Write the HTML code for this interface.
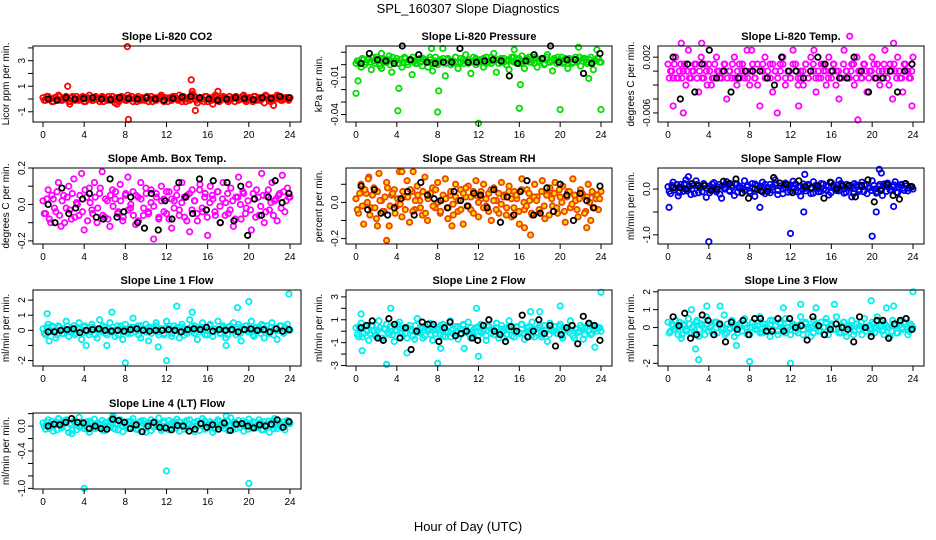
<!DOCTYPE html>
<html><head><meta charset="utf-8"><style>
body{margin:0;background:#fff;}
svg{display:block;font-family:"Liberation Sans",Arial,sans-serif;}
</style></head><body>
<svg id="chart" width="936" height="540" viewBox="0 0 936 540" xmlns="http://www.w3.org/2000/svg">
<rect width="936" height="540" fill="#fff"/>
<text x="468" y="13" text-anchor="middle" font-size="13">SPL_160307  Slope Diagnostics</text>
<text x="468" y="531" text-anchor="middle" font-size="13">Hour of Day (UTC)</text>
</svg>
<script>
const xTicks=[0,4,8,12,16,20,24];
const xTickLabels=["0","4","8","12","16","20","24"];

const co2Main=[0.1,-0.1,0.2,0,-0.2,0.1,0.3,-0.1,0,0.2,-0.2,0.1,0,0.2,-0.1,0.1,-0.2,0,0.3,-0.1,0.1,0,-0.2,0.2,0.1,-0.1,0,0.2,-0.3,0.1,0,0.1,-0.1,0.3,0,-0.2,0.1,0.2,-0.1,0,0.1,-0.2,0.2,0,-0.1,0.1,0.3,-0.2,0,0.1,-0.1,0.2,0,0.3,-0.2,0.1,0,-0.1,0.4,0.2,-0.3,0.1,0,0.2,-0.2,0.1,-0.4,0.3,0,-0.1,0.2,0.1,-0.2,0,0.1,0.2,-0.1,0,0.3,-0.2,0.1,0,0.2,-0.1,0.1,0,-0.3,0.2,0.1,-0.1,0,0.3,0.2,-0.1,0.1,0,0.1];
const co2Main2=[-0.1,0.2,0,-0.2,0.1,0,0.2,-0.1,0.1,0,-0.2,0.2,-0.1,0,0.1,0.2,-0.2,0.1,0,-0.1,0.2,0,0.1,-0.2,0,0.2,-0.1,0,0.1,-0.2,0.2,0,-0.1,0.1,0.2,0,-0.2,0,0.1,-0.1,0.2,0,-0.2,0.1,0,0.2,-0.1,0.1,-0.2,0,0.2,0.1,-0.1,0,0.2,-0.2,0.1,0,0.3,-0.1,0,0.1,-0.2,0.2,0,-0.1,0.1,0.2,-0.2,0,0.1,-0.1,0.2,0,-0.2,0.1,0,0.2,-0.1,0,0.1,-0.2,0.2,0,-0.1,0.1,0.3,0,-0.2,0.1,0,0.2,-0.1,0,0.1,-0.1];
const co2OutX=[2.4,2.6,8.2,8.3,14.4,14.5,14.8,17,22.4,7.2];
const co2OutY=[1.0,-0.4,4.1,-1.6,1.5,0.6,-0.9,0.6,-0.5,-0.4];
const co2Black=[0,-0.1,0.1,0,0.05,0.1,0,-0.05,0.1,0.05,0,0.1,0,-0.1,0.05,0.15,0.2,0.1,0,-0.1,0,0.1,0.05,-0.05,0.1,0.05,0.2,0.1];

const presMain=[0.001,0.003,-0.002,0.004,0.002,0.005,-0.004,0.003,0.006,0.001,-0.003,0.004,0.002,0.007,-0.006,0.003,0.005,0.001,-0.002,0.006,0.002,0.004,-0.008,0.003,0.001,0.005,-0.001,0.004,0.002,0.006,-0.005,0.003,0.000,0.004,0.002,-0.009,0.005,0.003,0.001,0.006,-0.003,0.002,0.004,0.008,0.001,-0.007,0.003,0.005,0.002,0.004,-0.002,0.006,0.003,0.001,0.009,-0.006,0.004,0.002,0.005,0.003,-0.004,0.006,0.002,0.004,0.001,0.007,-0.003,0.005,0.002,0.004,0.006,-0.002,0.003,0.005,0.001,0.008,0.002,-0.005,0.004,0.006,0.003,0.001,0.005,-0.003,0.004,0.002,0.006,0.003,-0.001,0.005,0.004,0.002,0.006,-0.004,0.003,0.005,0.002];
const presMain2=[0.003,0.001,0.005,0.000,0.004,0.002,0.006,0.001,0.003,-0.001,0.005,0.002,0.004,0.000,0.006,0.003,0.001,0.004,0.002,0.005,0.000,0.003,0.006,0.001,0.004,0.002,0.005,0.003,-0.002,0.004,0.001,0.006,0.002,0.003,0.005,0.001,0.004,0.000,0.003,0.006,0.002,0.005,0.001,0.003,0.004,0.002,0.006,0.000,0.004,0.003,0.005,0.001,0.002,0.006,0.003,0.004,0.001,0.005,0.002,0.000,0.004,0.003,0.006,0.002,0.005,0.001,0.003,0.004,0.006,0.002,0.001,0.005,0.003,0.004,0.000,0.006,0.002,0.003,0.005,0.001,0.004,0.006,0.002,0.003,0.005,0.001,0.004,0.002,0.006,0.003,0.005,0.001,0.004,0.002,0.003,0.005,0.002];
const presOutX=[0,0.2,4.1,4.2,8,8.1,12,16,20,24,7.4,8.5,15.5,21.8,23.6,22.8,16.1,2.5];
const presOutY=[-0.023,-0.013,-0.037,-0.019,-0.038,-0.021,-0.047,-0.035,-0.036,-0.036,0.013,0.013,0.012,0.014,0.012,-0.011,-0.016,0.009];
const presBlack=[0.001,0.009,0.004,0.003,0.001,0.015,0.004,0.008,0.002,0.001,0.002,0.002,0.013,0.002,0.002,0.003,0.004,0.003,-0.009,0.001,0.003,0.008,0.005,0.015,0.002,0.004,0.004,-0.007,0.001,0.009];

const tempMain=[0.001,0,-0.001,0.002,-0.001,0.001,0,-0.002,0.003,-0.001,0,0.001,-0.003,0.002,-0.001,0,0.001,-0.002,-0.001,0.002,0,-0.001,0.001,-0.004,0,-0.001,0.002,-0.002,0.001,0,-0.001,0.003,-0.002,0,-0.001,0.001,-0.005,0,0.002,-0.001,0.001,-0.003,0,-0.001,0.001,0.002,-0.002,0,-0.001,0.003,0.001,-0.001,0,-0.002,0.001,-0.001,0.002,0,-0.003,-0.001,0.001,0,-0.002,0.002,-0.001,0.001,0,-0.004,-0.001,0.003,0,-0.001,0.001,-0.002,0.002,0,-0.001,0.001,-0.003,0,0.002,-0.001,0.001,-0.002,0,0.003,-0.001,0.001,-0.004,0,0.002,-0.001,-0.003,0.001,0,-0.001,0.002];
const tempMain2=[-0.001,0,0.001,-0.001,0,-0.001,0.001,0,-0.001,0,0.001,-0.001,0,-0.001,0.001,-0.002,0,-0.001,0.001,0,-0.001,0,0.001,-0.001,0,0.001,-0.001,0,-0.001,0.001,0,-0.001,0,0.001,-0.001,-0.002,0,0.001,-0.001,0,-0.001,0.001,0,-0.001,0,0.001,-0.001,0,-0.001,0.001,0,-0.002,-0.001,0,0.001,-0.001,0,0.001,-0.001,0,-0.001,0.001,0,-0.001,0,0.001,-0.002,0,-0.001,0.001,0,-0.001,0,0.001,-0.001,0,-0.001,0.001,0,-0.001,0,0.001,-0.001,0,-0.001,0.001,0,-0.002,0,0.001,-0.001,0,-0.001,0.001,0,-0.001,0];
const tempOutX=[0.5,1.3,3.3,10.7,12.8,14.3,17.8,18.6,22.1,23.9,8.2,1.5];
const tempOutY=[-0.005,0.004,0.004,-0.006,-0.005,0.003,0.005,-0.007,0.004,-0.005,0.003,-0.006];
const tempBlack=[0.002,-0.004,0.001,-0.003,0.001,0.003,-0.001,0,-0.003,-0.001,0,0,0,-0.001,-0.002,0.002,0,0,-0.001,0,0.002,0.001,0,-0.001,-0.001,0.002,0,-0.003,-0.001,-0.001,0,-0.003,0,0.001];

const ambMain=[0.02,-0.05,0.08,-0.1,0.03,-0.04,0.12,-0.12,0.05,-0.02,0.1,-0.08,0.14,0.01,-0.06,0.17,-0.14,0.04,0.09,-0.03,0.12,-0.1,0.06,0.18,-0.07,0.02,-0.12,0.08,0.03,-0.05,0.11,-0.09,0.05,0.15,-0.02,0.07,-0.11,0.04,0.12,-0.06,0.09,-0.04,0.01,-0.19,0.06,-0.08,0.1,0.03,-0.05,0.07,-0.13,0.02,0.09,-0.03,0.12,-0.07,0.05,-0.15,0.08,0.02,-0.09,0.11,-0.04,0.06,-0.17,0.1,0.03,-0.06,0.07,-0.1,0.12,0.01,-0.05,0.09,-0.12,0.04,0.15,-0.08,0.06,-0.02,0.11,-0.14,0.03,0.08,-0.06,0.17,-0.1,0.05,-0.03,0.12,0.02,-0.09,0.06,0.16,-0.04,0.09,0.04];
const ambMain2=[-0.05,0.03,-0.08,0.05,-0.02,0.07,-0.06,0.02,-0.1,0.04,-0.03,0.06,-0.07,0.0,0.05,-0.04,0.08,-0.09,0.01,-0.05,0.04,-0.02,0.09,-0.06,0.03,-0.08,0.05,-0.01,0.07,-0.04,0.02,-0.07,0.06,-0.03,0.0,-0.06,0.05,-0.09,0.03,-0.02,0.06,-0.05,0.08,-0.01,0.04,-0.07,0.02,-0.04,0.07,-0.08,0.03,-0.02,0.05,-0.06,0.01,0.04,-0.09,0.06,-0.03,0.02,-0.05,0.08,-0.02,0.04,-0.07,0.01,0.05,-0.04,0.07,-0.01,0.03,-0.06,0.06,-0.03,0.02,-0.08,0.04,0.0,0.07,-0.05,0.02,-0.03,0.06,-0.07,0.04,-0.01,0.05,-0.04,0.08,0.01,-0.06,0.03,0.05,-0.02,0.07,0.02,0.04];
const ambBlack=[0,-0.1,0.09,-0.05,-0.02,0.03,0.06,-0.07,-0.08,0.14,-0.07,-0.04,0.04,-0.1,-0.13,0.06,-0.14,0.02,-0.08,0.12,0.04,-0.05,0.14,-0.03,0.13,-0.1,0.12,-0.09,0.1,-0.17,0.03,-0.06,0.04,0.13,0.01,0.06];

const rhMain=[0.02,-0.06,0.1,-0.12,0.05,0.14,-0.03,0.08,-0.09,0.16,0.01,-0.05,0.11,-0.13,0.04,0.07,-0.02,0.17,-0.08,0.03,0.12,-0.11,0.06,-0.04,0.09,0.01,-0.07,0.14,-0.1,0.05,0.08,-0.03,0.11,-0.06,0.02,0.13,-0.09,0.04,-0.01,0.1,-0.05,0.07,-0.12,0.03,0.09,-0.04,0.06,0.12,-0.08,0.02,0.1,-0.02,0.05,-0.1,0.08,0.01,-0.06,0.11,0.04,-0.03,0.09,-0.08,0.06,0.02,-0.12,0.13,-0.04,0.07,0.01,-0.07,0.1,0.03,-0.05,0.12,-0.09,0.05,0.08,-0.02,0.11,-0.06,0.03,0.09,-0.11,0.06,-0.03,0.13,0.01,-0.08,0.07,0.04,-0.05,0.1,-0.1,0.05,0.02,-0.04,0.06];
const rhMain2=[-0.04,0.05,-0.02,0.07,0.0,-0.07,0.04,-0.03,0.06,0.01,-0.05,0.03,0.08,-0.02,0.05,-0.06,0.02,-0.01,0.06,-0.04,0.03,0.07,-0.05,0.01,0.04,-0.03,0.06,-0.06,0.02,0.05,-0.02,0.07,0.0,-0.05,0.04,0.02,-0.03,0.06,-0.07,0.03,0.01,-0.04,0.05,0.08,-0.02,0.03,-0.06,0.04,0.0,0.06,-0.03,0.02,-0.05,0.07,0.01,-0.04,0.05,-0.01,0.03,-0.07,0.06,0.02,-0.03,0.04,-0.05,0.07,0.0,-0.02,0.05,-0.06,0.03,0.01,-0.04,0.06,-0.02,0.04,-0.07,0.02,0.05,-0.03,0.07,0.0,-0.05,0.03,0.06,-0.01,0.04,-0.04,0.02,0.05,-0.06,0.03,0.0,0.06,-0.03,0.04,0.02];
const rhOutX=[3.0,4.5,5.6,2.1,17.1,22.6,9.4,16.5,1.2];
const rhOutY=[-0.21,0.17,0.17,-0.13,-0.18,-0.14,-0.13,-0.14,0.13];
const rhBlack=[0.09,-0.04,0.07,-0.06,-0.07,-0.03,0.02,0.06,-0.07,0.11,0.04,0.02,0.01,-0.03,0.06,0.01,-0.02,0.05,0.04,-0.03,0.07,-0.11,0.03,-0.07,0.06,0.12,-0.07,-0.06,0.08,-0.05,0.1,0.04,-0.1,0.05,0.01,-0.03,0.09];

const sampMain=[0.05,-0.1,0.15,0.02,-0.15,0.1,-0.05,0.2,0.0,-0.12,0.08,0.18,-0.08,0.04,0.12,-0.18,0.06,0.0,0.14,-0.06,0.1,-0.2,0.03,0.16,-0.03,0.08,-0.14,0.11,0.02,-0.09,0.18,0.05,-0.05,0.12,-0.16,0.07,0.02,0.15,-0.1,0.04,0.1,-0.02,0.2,-0.12,0.06,0.0,0.13,-0.07,0.09,0.17,-0.04,0.05,-0.15,0.11,0.02,0.08,-0.1,0.16,0.03,-0.06,0.12,0.0,0.07,-0.13,0.14,0.04,-0.03,0.19,0.06,-0.09,0.1,0.02,-0.17,0.12,0.05,-0.05,0.15,0.08,-0.1,0.03,0.18,0.0,-0.06,0.1,-0.14,0.07,0.13,-0.02,0.05,0.16,-0.08,0.09,0.02,0.12,-0.04,0.06,0.0];
const sampMain2=[-0.05,0.08,-0.02,0.1,-0.08,0.04,0.12,-0.04,0.06,0.0,-0.1,0.1,0.03,-0.06,0.08,0.02,-0.08,0.11,-0.02,0.05,-0.11,0.07,0.0,0.1,-0.05,0.04,0.12,-0.07,0.06,0.01,-0.04,0.09,-0.09,0.03,0.11,-0.02,0.06,-0.06,0.1,0.0,-0.08,0.05,0.12,-0.03,0.07,-0.1,0.04,0.09,-0.05,0.02,0.11,-0.07,0.06,0.0,-0.04,0.1,0.03,-0.09,0.08,0.01,-0.05,0.11,-0.02,0.06,-0.08,0.09,0.02,-0.04,0.12,0.0,-0.07,0.07,0.04,-0.1,0.09,-0.01,0.05,-0.06,0.1,0.02,-0.03,0.08,-0.09,0.06,0.01,0.11,-0.05,0.04,-0.02,0.09,-0.07,0.05,0.1,-0.03,0.07,0.02,0.05];
const sampOutX=[0.1,4.0,12.0,20.0,13.3,20.4,20.7,20.9,9.0,22.1,13.4,2.0];
const sampOutY=[-0.4,-1.15,-0.97,-1.03,-0.5,-0.5,0.43,0.35,-0.4,-0.38,0.32,0.27];
const sampBlack=[0.03,0.03,0.0,0.12,0.07,0.08,-0.03,0.0,0.17,0.12,0.22,-0.08,-0.2,0.0,-0.04,-0.05,0.25,0.13,0.1,-0.08,0.18,0.06,0.03,0.07,-0.2,0.15,0.0,0.07,0.08,-0.17,0.08,0.2,-0.28,-0.03,0.1,-0.14,-0.22,0.12,0.05];

const l1Main=[0.1,-0.3,0.4,-0.1,0.2,-0.5,0.3,0.0,-0.2,0.6,-0.4,0.1,0.3,-0.2,0.5,-0.6,0.2,0.0,-0.3,0.4,0.1,-0.5,0.7,-0.1,0.2,-0.3,0.5,0.0,-0.4,0.3,0.1,-0.6,0.4,-0.2,0.2,0.8,-0.1,0.3,-0.5,0.1,0.4,-0.7,0.2,0.0,0.5,-0.3,0.1,-0.2,0.6,0.3,-0.4,0.0,0.2,-0.5,0.4,0.1,-0.2,0.7,-0.1,0.3,-0.6,0.2,0.5,-0.3,0.0,0.4,-0.4,0.1,0.6,-0.2,0.3,-0.5,0.2,0.0,0.5,-0.3,0.4,-0.7,0.1,0.3,-0.1,0.6,-0.4,0.2,0.0,0.4,-0.5,0.3,-0.2,0.5,0.1,-0.6,0.3,-0.1,0.2,0.4,0.0];
const l1Main2=[-0.2,0.2,-0.1,0.3,0.0,-0.3,0.2,-0.2,0.1,0.3,-0.1,0.0,-0.3,0.2,0.1,-0.2,0.3,0.0,-0.1,0.2,-0.3,0.1,0.0,0.3,-0.2,0.1,-0.1,0.2,0.0,-0.3,0.3,-0.1,0.1,0.0,-0.2,0.2,0.1,-0.3,0.3,0.0,-0.1,0.2,-0.2,0.1,0.3,-0.1,0.0,-0.3,0.2,0.1,-0.2,0.3,0.0,-0.1,0.2,-0.3,0.1,0.0,0.3,-0.2,0.1,-0.1,0.2,0.0,-0.3,0.3,-0.1,0.1,0.0,-0.2,0.2,0.1,-0.3,0.3,0.0,-0.1,0.2,-0.2,0.1,0.3,-0.1,0.0,-0.3,0.2,0.1,-0.2,0.3,0.0,-0.1,0.2,-0.3,0.1,0.0,0.3,-0.2,0.1,0.0];
const l1OutX=[0.4,4.2,6.2,6.7,8.0,11.2,12.0,13.0,14.5,17.8,18.9,20.0,23.9,0.6];
const l1OutY=[1.1,-1.0,-1.0,1.2,-2.15,-1.1,-2.0,1.6,1.2,-1.0,1.5,1.9,2.4,-0.7];
const l1Black=[-0.1,-0.1,0.0,0.05,0.1,-0.15,0.0,0.05,0.1,0.0,-0.05,0.0,-0.05,0.05,0.1,0.0,-0.05,0.0,0.0,0.05,0.0,-0.1,0.05,0.1,0.05,0.2,-0.05,0.05,0.0,0.05,-0.1,0.05,0.1,0.0,0.05,-0.1,0.1,-0.05,0.05];

const l2Main=[0.3,-0.5,0.7,-0.2,0.1,-0.8,0.5,0.0,-0.4,0.9,-0.6,0.2,0.6,-0.3,0.4,-0.9,0.1,0.8,-0.2,0.3,-0.6,0.5,0.0,-0.7,1.1,-0.1,0.4,-0.4,0.2,0.7,-0.8,0.1,0.3,-0.3,0.6,-0.5,0.0,0.9,-0.2,0.4,-0.7,0.2,0.5,-0.1,0.8,-0.6,0.1,0.3,-0.4,0.6,0.0,-0.8,0.4,0.2,-0.3,0.7,-0.1,0.5,-0.6,0.2,0.9,-0.4,0.1,0.4,-0.2,0.6,-0.7,0.3,0.0,0.8,-0.5,0.2,0.5,-0.3,0.1,-0.9,0.7,0.0,0.4,-0.2,0.6,-0.6,0.3,0.1,0.9,-0.4,0.2,-0.1,0.5,-0.7,0.3,0.6,-0.3,0.1,0.4,0.2,0.0];
const l2Main2=[-0.3,0.2,-0.5,0.4,0.0,-0.2,0.5,-0.4,0.1,0.3,-0.6,0.2,-0.1,0.4,-0.3,0.0,0.6,-0.5,0.2,-0.2,0.3,0.1,-0.4,0.5,-0.1,0.2,-0.6,0.3,0.0,-0.3,0.4,-0.2,0.1,0.5,-0.4,0.0,0.3,-0.5,0.2,-0.1,0.4,-0.3,0.6,0.1,-0.2,0.3,-0.5,0.0,0.4,-0.1,0.2,-0.4,0.5,-0.2,0.1,0.3,-0.6,0.2,0.0,-0.3,0.4,0.1,-0.5,0.3,-0.1,0.6,-0.2,0.0,0.4,-0.4,0.2,-0.1,0.3,-0.5,0.5,0.1,-0.3,0.2,0.0,-0.2,0.4,-0.4,0.1,0.3,-0.1,0.5,-0.6,0.2,0.0,0.3,-0.3,0.4,0.1,-0.2,0.2,0.0,0.3];
const l2OutX=[0.5,0.6,3.0,3.4,5.0,8.0,8.3,10.6,11.8,12.0,17.1,18.0,20.0,23.4,24.0,0.3];
const l2OutY=[1.5,-1.7,-2.9,2.0,-1.9,-2.8,-1.5,-1.5,2.0,-2.2,1.7,1.7,2.2,-1.4,3.4,0.4];
const l2Black=[0.3,0.5,0.9,-0.6,-0.8,1.1,0.6,-0.6,0.3,-1.6,0.0,0.8,0.6,0.6,-0.9,0.3,0.8,-0.4,-0.2,0.0,-0.6,-0.8,0.5,1.0,0.0,-0.3,-0.9,0.4,0.0,1.4,-0.5,0.0,1.0,-0.2,0.5,-1.3,-0.3,0.3,0.5,-1.1,1.3,0.7,0.5,-0.8];

const l3Main=[0.3,-0.2,0.1,0.4,-0.4,0.0,0.2,-0.1,0.5,-0.3,0.1,0.3,-0.5,0.2,0.0,0.6,-0.2,0.1,-0.4,0.3,0.2,-0.1,0.7,-0.3,0.0,0.4,-0.5,0.1,0.2,-0.2,0.5,0.0,-0.4,0.3,0.1,-0.1,0.6,-0.3,0.2,0.0,-0.5,0.4,0.1,-0.2,0.3,-0.1,0.5,0.0,-0.4,0.2,0.1,-0.3,0.6,-0.1,0.2,0.0,-0.5,0.4,0.1,-0.2,0.3,-0.4,0.5,0.0,0.2,-0.1,0.6,-0.3,0.1,0.3,-0.5,0.0,0.4,-0.2,0.2,0.1,-0.4,0.5,0.0,-0.1,0.3,-0.3,0.6,0.1,-0.2,0.2,0.0,-0.5,0.4,0.1,-0.3,0.3,-0.1,0.5,-0.4,0.2,0.0];
const l3Main2=[-0.3,0.2,-0.1,0.0,0.3,-0.4,0.1,-0.2,0.2,0.0,-0.3,0.4,-0.1,0.1,-0.4,0.2,0.0,-0.2,0.3,-0.3,0.1,0.0,-0.4,0.2,-0.1,0.3,0.0,-0.3,0.1,-0.2,0.2,-0.4,0.0,0.3,-0.1,0.1,-0.3,0.2,0.0,-0.2,0.4,-0.1,0.1,-0.4,0.2,0.0,-0.3,0.3,-0.1,0.1,-0.2,0.0,0.2,-0.4,0.3,-0.1,0.0,-0.3,0.2,0.1,-0.2,0.0,0.3,-0.4,0.1,-0.1,0.2,0.0,-0.3,0.3,-0.2,0.1,0.0,-0.4,0.2,-0.1,0.3,0.0,-0.2,0.1,-0.3,0.2,0.0,-0.1,0.3,-0.4,0.1,0.0,-0.2,0.2,-0.3,0.1,0.0,0.3,-0.1,-0.2,0.1];
const l3OutX=[1.3,2.7,3.0,3.8,5.1,6.7,8.0,11.3,12.0,13.0,14.5,16.3,19.9,21.4,22.1,24.0,2.3];
const l3OutY=[-0.6,-1.2,-1.8,1.2,1.2,-1.0,-1.9,1.1,-2.0,1.3,1.1,1.3,1.5,1.1,1.2,2.0,1.0];
const l3Black=[0.6,0.1,0.8,-0.6,-0.4,0.7,0.4,-0.4,0.2,-0.8,0.3,-0.1,0.4,-0.4,0.5,0.5,-0.2,-0.2,0.5,-0.2,0.5,0.0,0.1,-0.7,0.6,0.1,-0.4,-0.1,0.2,0.0,-0.1,-0.8,0.6,0.0,-0.5,0.4,0.4,-0.6,0.2,0.4,0.5,-0.1];

const l4Main=[0.05,-0.05,0.1,0.0,-0.08,0.06,0.12,-0.03,0.04,0.1,-0.1,0.02,0.08,-0.06,0.14,0.0,-0.04,0.07,-0.1,0.05,0.11,-0.02,0.03,0.09,-0.07,0.06,0.0,0.13,-0.05,0.04,0.1,-0.09,0.02,0.07,-0.03,0.12,0.01,-0.06,0.08,0.04,-0.1,0.06,0.1,-0.02,0.03,0.13,-0.07,0.05,0.0,0.09,-0.04,0.07,0.11,-0.08,0.02,0.06,-0.03,0.1,0.0,-0.09,0.08,0.04,0.12,-0.05,0.03,0.07,-0.1,0.05,0.1,-0.02,0.06,0.01,-0.07,0.13,0.04,-0.04,0.09,0.02,-0.08,0.06,0.11,-0.03,0.05,0.0,0.1,-0.06,0.07,0.03,-0.1,0.08,0.12,-0.04,0.05,0.02,-0.06,0.09,0.04];
const l4Main2=[0.0,0.06,-0.04,0.08,0.02,-0.06,0.05,0.0,0.09,-0.03,0.04,-0.07,0.07,0.01,-0.02,0.06,0.03,-0.05,0.08,0.0,-0.04,0.05,0.02,-0.07,0.06,0.01,0.09,-0.03,0.04,-0.06,0.07,0.0,0.03,-0.04,0.08,0.02,-0.05,0.05,0.0,0.09,-0.02,0.04,-0.07,0.06,0.01,0.03,-0.04,0.08,0.0,-0.06,0.05,0.02,-0.03,0.07,0.01,-0.05,0.09,0.03,-0.02,0.06,0.0,-0.07,0.04,0.08,-0.03,0.02,0.05,-0.05,0.07,0.0,0.03,-0.04,0.09,0.01,-0.06,0.06,0.02,-0.02,0.08,0.0,-0.05,0.04,0.07,-0.03,0.01,0.06,-0.06,0.03,0.08,0.0,-0.04,0.05,0.02,-0.02,0.07,0.03,0.05];
const l4OutX=[4.0,12.0,20.0,2.8,17.8,6.8];
const l4OutY=[-1.0,-0.72,-0.92,-0.12,0.16,0.16];
const l4Black=[0.0,0.03,0.02,0.06,0.12,0.06,0.05,-0.04,0.0,-0.04,-0.05,0.11,0.09,0.06,-0.04,0.02,-0.09,0.0,0.06,-0.02,-0.03,-0.06,0.01,0.0,-0.08,-0.05,0.04,-0.02,0.02,-0.05,0.05,-0.07,0.03,0.04,0.0,-0.03,0.02,0.0,0.03,0.1,-0.02,0.07];

const co2Ticks=[-1,0,1,2,3,4];const co2Labels=["-1","","1","","3",""];
const presTicks=[0.01,0,-0.01,-0.02,-0.03,-0.04];const presLabels=["","","-0.01","","","-0.04"];
const tempTicks=[0.002,0,-0.002,-0.004,-0.006];const tempLabels=["0.002","","","","-0.006"];
const ambTicks=[0.2,0.1,0,-0.1,-0.2];const ambLabels=["0.2","","0.0","","-0.2"];
const rhTicks=[0.1,0,-0.1,-0.2];const rhLabels=["","0.0","","-0.2"];
const sampTicks=[0,-0.5,-1];const sampLabels=["0.0","","-1.0"];
const l1Ticks=[2,1,0,-1,-2];const l1Labels=["2","1","0","","-2"];
const l2Ticks=[3,2,1,0,-1,-2,-3];const l2Labels=["3","","1","","-1","","-3"];
const l3Ticks=[2,1,0,-1,-2];const l3Labels=["2","1","0","","-2"];
const l4Ticks=[0.2,0,-0.2,-0.4,-0.6,-0.8,-1.0];const l4Labels=["","0.0","","-0.4","","","-1.0"];

const NS="http://www.w3.org/2000/svg";
const svg=document.getElementById('chart');
const colL=[33,346,658], colR=[301,612,924];
const rowT=[46,168,290,413], rowH=76;

function mk(tag,attrs,parent){const e=document.createElementNS(NS,tag);for(const k in attrs)e.setAttribute(k,attrs[k]);(parent||svg).appendChild(e);return e;}

function panel(key,col,row,title,ylab,ymin,ymax,color,fill,main,main2,outX,outY,black,yt,yl){
  const L=colL[col],R=colR[col],T=rowT[row],B=T+rowH;
  const g=mk('g',{});
  
  
  const xs=h=>L+10+h/24*(R-L-21);
  const ys=v=>B-(v-ymin)/(ymax-ymin)*(B-T);
  const t=mk('text',{x:(L+R)/2,y:T-6,'text-anchor':'middle','font-size':'11','font-weight':'bold'},g);
  t.textContent=title;
  
  
  const yt2=mk('text',{transform:`translate(${L-24},${(T+B)/2}) rotate(-90)`,'text-anchor':'middle','font-size':'10'},g);
  yt2.textContent=ylab;
  
  
  const pts=mk('g',{fill:fill,stroke:color,'stroke-width':'1.8'},g);
  
  
  main.forEach((v,i)=>{const c=mk('circle',{cx:xs(i*24/(main.length-1)),cy:ys(v),r:2.7},pts);
    
    });
  main2.forEach((v,i)=>{const c=mk('circle',{cx:xs((i+0.5)*24/main2.length),cy:ys(v),r:2.7},pts);
    
    });
  outX.forEach((h,i)=>{const c=mk('circle',{cx:xs(h),cy:ys(outY[i]),r:2.7},pts);
    
    });
  const bk=mk('g',{fill:'none',stroke:'#000','stroke-width':'1.8'},g);
  
  
  black.forEach((v,i)=>{const c=mk('circle',{cx:xs(0.5+i*23.4/(black.length-1)),cy:ys(v),r:2.7},bk);
    
    });
  const box=mk('rect',{x:L,y:T,width:R-L,height:B-T,fill:'none',stroke:'#000','stroke-width':'1'},g);
  
  
  const ax=mk('g',{stroke:'#000','stroke-width':'1'},g);
  
  
  xTicks.forEach((h,i)=>{mk('line',{x1:xs(h),x2:xs(h),y1:B,y2:B+5},ax);
    const l=mk('text',{x:xs(h),y:B+16,'text-anchor':'middle','font-size':'10',stroke:'none'},ax);
    l.textContent=xTickLabels[i];
    
    });
  yt.forEach((v,i)=>{const y=ys(v);if(y<T-1||y>B+1)return;mk('line',{x1:L-5,x2:L,y1:y,y2:y},ax);
    if(yl[i]){const l=mk('text',{transform:`translate(${L-8},${y}) rotate(-90)`,'text-anchor':'middle','font-size':'10',stroke:'none'},ax);
      l.textContent=yl[i];
      
      }});
}
panel('co2',0,0,'Slope Li-820 CO2','Licor ppm per min.',-1.8,4.15,'#ff0000','none',co2Main,co2Main2,co2OutX,co2OutY,co2Black,co2Ticks,co2Labels);
panel('pressure',1,0,'Slope Li-820 Pressure','kPa per min.',-0.046,0.015,'#00dd00','none',presMain,presMain2,presOutX,presOutY,presBlack,presTicks,presLabels);
panel('li820-temp',2,0,'Slope Li-820 Temp.','degrees C per min.',-0.0073,0.0036,'#ff00ff','none',tempMain,tempMain2,tempOutX,tempOutY,tempBlack,tempTicks,tempLabels);
panel('amb-box-temp',0,1,'Slope Amb. Box Temp.','degrees C per min.',-0.217,0.2,'#ff00ff','none',ambMain,ambMain2,[],[],ambBlack,ambTicks,ambLabels);
panel('gas-rh',1,1,'Slope Gas Stream RH','percent per min.',-0.23,0.19,'#ee4400','#ffdd00',rhMain,rhMain2,rhOutX,rhOutY,rhBlack,rhTicks,rhLabels);
panel('sample-flow',2,1,'Slope Sample Flow','ml/min per min.',-1.2,0.46,'#0000ee','none',sampMain,sampMain2,sampOutX,sampOutY,sampBlack,sampTicks,sampLabels);
panel('line1-flow',0,2,'Slope Line 1 Flow','ml/min per min.',-2.36,2.67,'#00eeee','none',l1Main,l1Main2,l1OutX,l1OutY,l1Black,l1Ticks,l1Labels);
panel('line2-flow',1,2,'Slope Line 2 Flow','ml/min per min.',-3.04,3.6,'#00eeee','none',l2Main,l2Main2,l2OutX,l2OutY,l2Black,l2Ticks,l2Labels);
panel('line3-flow',2,2,'Slope Line 3 Flow','ml/min per min.',-2.15,2.1,'#00eeee','none',l3Main,l3Main2,l3OutX,l3OutY,l3Black,l3Ticks,l3Labels);
panel('line4-flow',0,3,'Slope Line 4 (LT) Flow','ml/min per min.',-1.01,0.21,'#00eeee','none',l4Main,l4Main2,l4OutX,l4OutY,l4Black,l4Ticks,l4Labels);
</script>
</body></html>
